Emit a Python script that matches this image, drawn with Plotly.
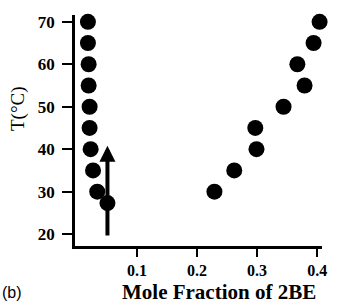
import plotly.graph_objects as go

# Left branch (2BE-poor phase)
left_x = [0.0185, 0.0185, 0.0197, 0.0197, 0.0213, 0.0213, 0.023, 0.027, 0.034, 0.051]
left_T = [70, 65, 60, 55, 50, 45, 40, 35, 30, 27.3]
# Right branch (2BE-rich phase)
right_x = [0.229, 0.262, 0.299, 0.297, 0.344, 0.379, 0.367, 0.394, 0.404]
right_T = [30, 35, 40, 45, 50, 55, 60, 65, 70]

x_ticks = [0.1, 0.2, 0.3, 0.4]
x_tick_text = ["<b>0.1</b>", "<b>0.2</b>", "<b>0.3</b>", "<b>0.4</b>"]
y_ticks = [20, 30, 40, 50, 60, 70]
y_tick_text = ["<b>20</b>", "<b>30</b>", "<b>40</b>", "<b>50</b>", "<b>60</b>", "<b>70</b>"]

arrow_x = 0.051
arrow_T = [19.3, 40.8]

fig = go.Figure()
fig.add_trace(go.Scatter(x=left_x + right_x, y=left_T + right_T, mode="markers",
                         marker=dict(size=16, color="black", line=dict(width=0)),
                         showlegend=False, cliponaxis=False))

serif = "Liberation Serif"
fig.add_annotation(x=arrow_x, y=arrow_T[1], ax=arrow_x, ay=arrow_T[0],
                   xref="x", yref="y", axref="x", ayref="y", text="",
                   showarrow=True, arrowhead=2, arrowwidth=4, arrowsize=0.8,
                   arrowcolor="black", standoff=0, startstandoff=0)

fig.add_annotation(text="<b>Mole Fraction of 2BE</b>", xref="paper", yref="paper",
                   x=0.585, y=-0.2, xanchor="center", yanchor="middle",
                   showarrow=False, font=dict(family=serif, size=21, color="black"))
fig.add_annotation(text="T(°C)", xref="paper", yref="paper", textangle=-90,
                   x=-0.231, y=0.597, xanchor="center", yanchor="middle",
                   showarrow=False, font=dict(family=serif, size=19, color="black"))
fig.add_annotation(text="(b)", xref="paper", yref="paper",
                   x=-0.255, y=-0.2, xanchor="center", yanchor="middle",
                   showarrow=False, font=dict(family="Liberation Sans", size=16, color="black"))

fig.update_layout(
    width=339, height=305,
    margin=dict(l=75, r=13, t=15, b=59),
    paper_bgcolor="white", plot_bgcolor="white",
    xaxis=dict(range=[-0.003, 0.408], tickvals=x_ticks, ticktext=x_tick_text,
               showgrid=False, zeroline=False, showline=True, linecolor="black",
               linewidth=2.5, ticks="outside", ticklen=8, tickwidth=1.5,
               tickcolor="black",
               tickfont=dict(family=serif, size=16, color="black")),
    yaxis=dict(range=[17.2, 71.6], tickvals=y_ticks, ticktext=y_tick_text,
               showgrid=False, zeroline=False, showline=True, linecolor="black",
               linewidth=2.5, ticks="outside", ticklen=10, tickwidth=1.5,
               tickcolor="black", ticklabelstandoff=4,
               tickfont=dict(family=serif, size=17, color="black")),
)

fig.write_html("out.html", config={"displayModeBar": False},
               post_script="document.body.style.margin='0px';document.body.style.padding='0px';")
